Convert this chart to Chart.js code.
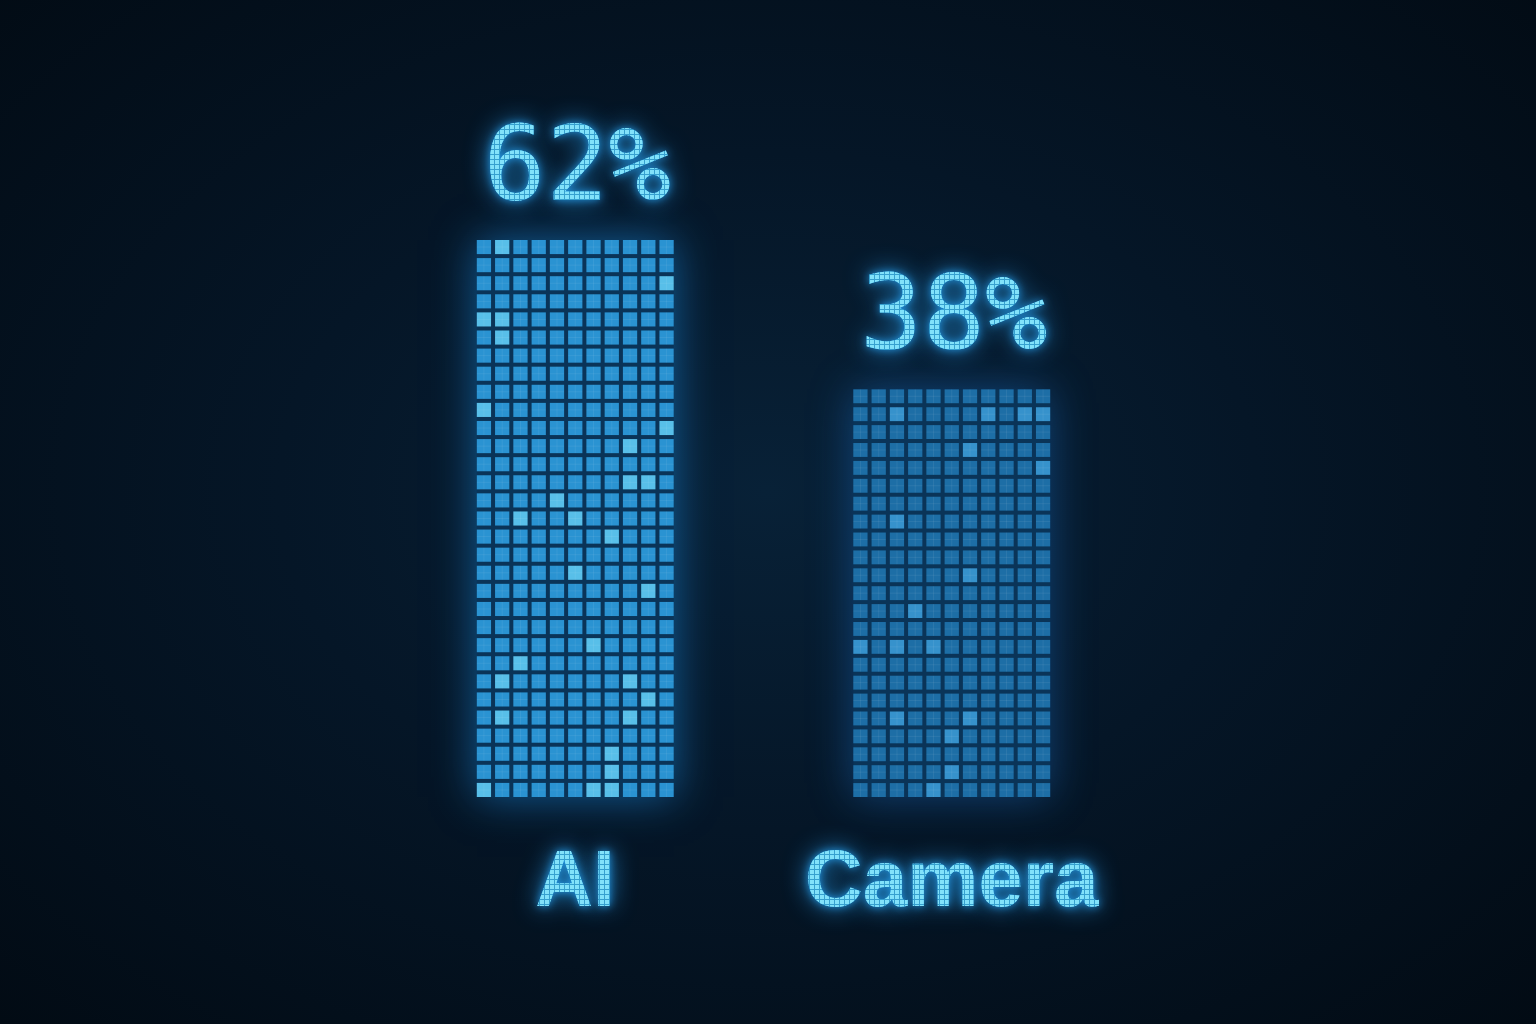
<!DOCTYPE html>
<html>
<head>
<meta charset="utf-8">
<script src="https://cdn.jsdelivr.net/npm/chart.js@4.4.1/dist/chart.umd.min.js"></script>
<style>
  html, body { margin: 0; padding: 0; background: #03111e; }
  #wrap { width: 1536px; height: 1024px; position: relative;
    background: radial-gradient(ellipse at 50% 48%, #082137 0%, #051627 45%, #020b14 100%); }
</style>
</head>
<body>
<div id="wrap"><canvas id="chart" width="1536" height="1024"></canvas></div>
<script>
// data
const categories = ['AI', 'Camera'];
const shares = [62, 38];
const valueLabels = ['62%', '38%'];

const cellColors = ['#2a93d2', '#1d6ea6'];
const hiColors = ['#58bfe9', '#3692cc'];

// textured fill for glowing text: small tiles with dark seams
function textPattern(ctx) {
    const t = document.createElement('canvas');
    t.width = 5; t.height = 5;
    const c = t.getContext('2d');
    c.fillStyle = '#36a0cf';
    c.fillRect(0, 0, 5, 5);
    c.fillStyle = '#82e2fa';
    c.fillRect(0, 0, 4, 4);
    return ctx.createPattern(t, 'repeat');
}

// decoration only: deterministic pick of brighter cells
function bright(i, r, c) {
    let h = (i + 1) * 374761393 + r * 668265263 + c * 2147483647;
    h = (h ^ (h >>> 13)) * 1274126177;
    h = h ^ (h >>> 16);
    return (Math.abs(h) % 100) < 9;
}

function glowText(ctx, txt, x, y, font) {
    ctx.save();
    ctx.font = font;
    ctx.textAlign = 'center';
    ctx.textBaseline = 'alphabetic';
    ctx.shadowColor = 'rgba(40,170,255,0.8)';
    ctx.shadowBlur = 24;
    ctx.fillStyle = '#3aa8dc';
    ctx.fillText(txt, x, y);
    ctx.shadowBlur = 8;
    ctx.fillStyle = textPattern(ctx);
    ctx.fillText(txt, x, y);
    ctx.restore();
}

const tilePlugin = {
    id: 'tiles',
    afterDatasetsDraw(chart) {
        const ctx = chart.ctx;
        const meta = chart.getDatasetMeta(0);
        const xScale = chart.scales.x;
        meta.data.forEach((bar, i) => {
            const left = bar.x - bar.width / 2;
            const top = bar.y;
            const h = bar.base - bar.y - 3;
            const w = bar.width;
            const cols = 11, gap = 4;
            const px = (w + gap) / cols;
            const rows = Math.round((h + gap) / 18);
            const py = (h + gap) / rows;

            // glow behind bar
            ctx.save();
            ctx.shadowColor = i === 0 ? 'rgba(30,150,240,0.55)' : 'rgba(30,120,210,0.45)';
            ctx.shadowBlur = 40;
            ctx.fillStyle = '#0a3458';
            ctx.fillRect(left, top, w, h);
            ctx.restore();

            ctx.save();
            for (let r = 0; r < rows; r++) {
                for (let c = 0; c < cols; c++) {
                    const cx = left + c * px;
                    const cy = top + r * py;
                    ctx.fillStyle = bright(i, r, c) ? hiColors[i] : cellColors[i];
                    ctx.fillRect(cx, cy, px - gap, py - gap);
                    // fine inner texture
                    ctx.fillStyle = 'rgba(255,255,255,0.07)';
                    ctx.fillRect(cx + (px - gap) / 2 - 0.5, cy, 1, py - gap);
                    ctx.fillRect(cx, cy + (py - gap) / 2 - 0.5, px - gap, 1);
                }
            }
            ctx.restore();

            glowText(ctx, valueLabels[i], bar.x + 2, top - 40, '104px "DejaVu Sans Mono"');
            glowText(ctx, categories[i], xScale.getPixelForValue(i), 906, 'bold 80px "Liberation Sans"');
        });
    }
};

new Chart(document.getElementById('chart'), {
    type: 'bar',
    data: {
        labels: categories,
        datasets: [{
            data: shares,
            base: -28,
            backgroundColor: 'rgba(0,0,0,0)',
            borderWidth: 0
        }]
    },
    options: {
        responsive: false,
        animation: false,
        layout: { padding: { left: 387, right: 396, top: 100, bottom: 224 } },
        categoryPercentage: 1,
        barPercentage: 0.523,
        plugins: { legend: { display: false }, tooltip: { enabled: false } },
        scales: {
            x: { display: false, offset: true },
            y: { display: false, min: -28, max: 84.5 }
        }
    },
    plugins: [tilePlugin]
});
</script>
</body>
</html>
